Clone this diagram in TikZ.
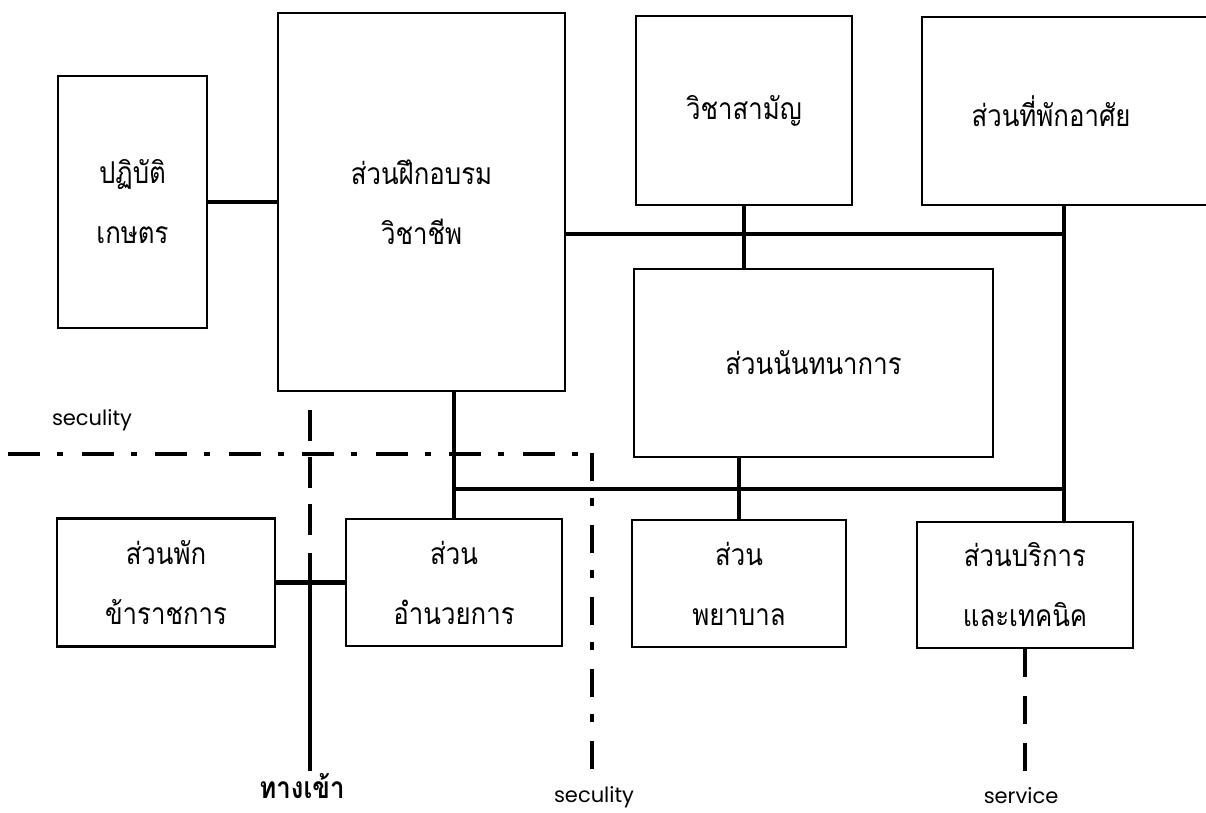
\documentclass[tikz,border=0pt]{standalone}
\usepackage{fontspec}
\setmainfont{Poppins}
\newfontfamily\thaifont[Script=Thai, FakeStretch=0.86]{Loma}
\usetikzlibrary{calc}
\begin{document}
\begin{tikzpicture}[x=1pt,y=-1pt,
  box/.style={draw, line width=2.1pt, rectangle, inner sep=0pt,
    font=\thaifont\fontsize{30}{60}\selectfont, align=center},
  bus/.style={line width=4.6pt},
  secline/.style={line width=3.2pt, dash pattern=on 32pt off 17pt on 6pt off 18.5pt},
  secvline/.style={line width=3.2pt, dash pattern=on 28pt off 17pt on 8pt off 19pt},
  dashv/.style={line width=3.2pt, dash pattern=on 31pt off 16pt},
  svcline/.style={line width=3.4pt, dash pattern=on 28pt off 19pt},
  eng/.style={font=\fontsize{21}{24}\selectfont, inner sep=0pt},
  thaibold/.style={font=\thaifont\bfseries\fontsize{30}{32}\selectfont, inner sep=0pt},
]
\useasboundingbox (0,0) rectangle (1206,812);
\clip (0,0) rectangle (1206,812);

% boxes
\node[box, minimum width=149pt, minimum height=252pt] (pf) at (132.5,202) {ปฏิบัติ\\เกษตร};
\node[box, minimum width=287pt, minimum height=378pt] (sf) at (421.5,202) {ส่วนฝึกอบรม\\วิชาชีพ};
\node[box, minimum width=216pt, minimum height=189pt] (vs) at (744,110.5) {วิชาสามัญ};
\node[box, minimum width=298pt, minimum height=188pt,
  label={[font=\thaifont\fontsize{30}{32}\selectfont, xshift=-20pt]center:ส่วนที่พักอาศัย}] (tp) at (1071,111) {};
\node[box, minimum width=359pt, minimum height=188pt] (nt) at (813.5,363) {ส่วนนันทนาการ};
\node[box, minimum width=218pt, minimum height=128pt] (sp) at (166,582.5) {ส่วนพัก\\ข้าราชการ};
\node[box, minimum width=216pt, minimum height=127pt] (ai) at (454,582.5) {ส่วน\\อำนวยการ};
\node[box, minimum width=214pt, minimum height=127pt] (py) at (739,583.5) {ส่วน\\พยาบาล};
\node[box, minimum width=216pt, minimum height=126pt] (bk) at (1025,585) {ส่วนบริการ\\และเทคนิค};

% junctions
\coordinate (jU) at (1064,234);
\coordinate (jL) at (1064,489);

% bus connectors
\draw[bus] (pf.east) -- (sf.west);
\draw[bus] (sf.east |- jU) -- ([xshift=2.3pt]jU);
\draw[bus] (vs.south) -- (vs.south |- nt.north);
\draw[bus] (tp.south -| jU) -- (bk.north -| jU);
\draw[bus] (sf.south -| ai.north) -- (ai.north);
\draw[bus] ([xshift=-2.3pt]ai.north |- jL) -- ([xshift=2.3pt]jL);
\draw[bus] (nt.south -| py.north) -- (py.north);
\draw[bus] (sp.east) -- (ai.west);

% entrance
\coordinate (e1) at (310,410);
\coordinate (e2) at (310,535);
\coordinate (e3) at (310,553);
\coordinate (e4) at (310,771);
\draw[dashv] (e1) -- (e2);
\draw[bus] (e3) -- (e4);
\node[thaibold] (entl) at (302,786) {ทางเข้า};

% security lines
\coordinate (s1) at (8,454);
\coordinate (s2) at (578,454);
\draw[secline] (s1) -- (s2);
\coordinate (s3) at (592,453);
\coordinate (s4) at (592,771);
\draw[secvline] (s3) -- (s4);
\node[eng] (secl) at (92,420) {seculity};
\node[eng] (secb) at (594,797) {seculity};

% service
\coordinate (sv) at (bk.south |- s4);
\draw[svcline] (bk.south) -- (sv);
\node[eng] (svl) at (1021,796) {service};
\end{tikzpicture}
\end{document}
